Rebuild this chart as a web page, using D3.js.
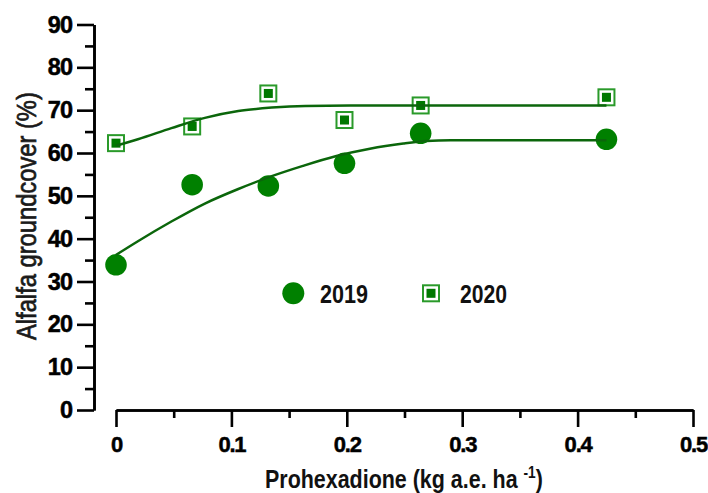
<!DOCTYPE html>
<html>
<head>
<meta charset="utf-8">
<script src="https://cdn.jsdelivr.net/npm/d3@7"></script>
<style>
  html, body { margin: 0; padding: 0; background: #fff; }
  svg { display: block; }
  text { font-family: "Liberation Sans", Arial, sans-serif; }
</style>
</head>
<body>
<svg id="chart" width="708" height="493"></svg>
<script>
// ---- data ----
const doses = [0, 0.066, 0.132, 0.198, 0.264, 0.425];
const cover2019 = [33.9, 52.6, 52.3, 57.6, 64.6, 63.2];
const cover2020 = [62.3, 66.2, 73.9, 67.7, 71.1, 73.0];
// fitted curves
const curve2019Dose = [0, 0.019, 0.048, 0.077, 0.106, 0.135, 0.162, 0.191, 0.220, 0.249, 0.269, 0.290, 0.425];
const curve2019 = [36.2, 39.4, 44.0, 48.2, 51.6, 54.6, 57.0, 59.3, 61.0, 62.2, 62.8, 63.0, 63.0];
const curve2020Dose = [0, 0.019, 0.048, 0.077, 0.106, 0.135, 0.164, 0.203, 0.425];
const curve2020 = [61.7, 63.2, 65.8, 68.2, 69.8, 70.6, 71.0, 71.1, 71.1];
const yMajorTicks = [0, 10, 20, 30, 40, 50, 60, 70, 80, 90];
const yMinorTicks = [5, 15, 25, 35, 45, 55, 65, 75, 85];
const xMajorTicks = [0, 0.1, 0.2, 0.3, 0.4, 0.5];
const xMinorTicks = [0.05, 0.15, 0.25, 0.35, 0.45];
const seriesNames = ["2019", "2020"];

// ---- layout ----
const svg = d3.select("#chart");
const x = d3.scaleLinear().domain([0, 0.5]).range([116, 693]);
const y = d3.scaleLinear().domain([0, 90]).range([410, 24.5]);

const circleFill = "#008000";
const squareStroke = "#2a9a2a";
const squareFill = "#007800";
const lineColor = "#0b660b";

function fitText(parent, str, tx, ty, width, opts) {
  const g = parent.append("g");
  const t = g.append("text")
    .attr("x", 0).attr("y", 0)
    .style("font-size", opts.size + "px")
    .style("font-weight", opts.weight || "normal")
    .attr("fill", opts.fill || "#111");
  if (opts.stroke) t.attr("stroke", opts.fill || "#111").attr("stroke-width", opts.stroke);
  if (typeof str === "function") str(t); else t.text(str);
  const w = t.node().getBBox().width;
  const s = width / w;
  g.attr("transform", `translate(${tx},${ty})` + (opts.rotate ? ` rotate(${opts.rotate})` : "") + ` scale(${s},1)`);
  return g;
}

// ---- axes ----
const yAxisG = svg.append("g").attr("transform", `translate(94,0)`);
yAxisG.call(d3.axisLeft(y).tickValues(yMajorTicks).tickSize(17).tickSizeOuter(0).tickPadding(5).tickFormat(d3.format("d")));
const yMinorG = svg.append("g").attr("transform", `translate(94,0)`);
yMinorG.call(d3.axisLeft(y).tickValues(yMinorTicks).tickSize(9).tickSizeOuter(0).tickFormat(""));

const xAxisG = svg.append("g").attr("transform", `translate(0,410)`);
xAxisG.call(d3.axisBottom(x).tickValues(xMajorTicks).tickSize(17).tickSizeOuter(0).tickPadding(9)
  .tickFormat(d => d === 0 ? "0" : d3.format(".1f")(d)));
const xMinorG = svg.append("g").attr("transform", `translate(0,410)`);
xMinorG.call(d3.axisBottom(x).tickValues(xMinorTicks).tickSize(8).tickSizeOuter(0).tickFormat(""));

svg.selectAll(".domain, .tick line").attr("stroke", "#000").attr("stroke-width", 2.6);
yAxisG.selectAll(".tick text").style("font-size", "23.5px").style("font-weight", "bold")
  .style("letter-spacing", "-1px").attr("fill", "#000").attr("stroke", "#000").attr("stroke-width", 0.5)
  .style("font-family", '"Liberation Sans", Arial, sans-serif');
xAxisG.selectAll(".tick text").style("font-size", "22px").style("font-weight", "bold")
  .style("letter-spacing", "-1.2px").attr("fill", "#000").attr("stroke", "#000").attr("stroke-width", 0.5)
  .style("font-family", '"Liberation Sans", Arial, sans-serif');

// ---- axis titles ----
fitText(svg, "Alfalfa groundcover (%)", 36, 340, 248, { size: 28, rotate: -90, fill: "#1a1a1a", stroke: 0.7 });
fitText(svg, t => {
  t.append("tspan").text("Prohexadione (kg a.e. ha ");
  t.append("tspan").text("-1").style("font-size", "16px").attr("dy", -10);
  t.append("tspan").text(")").attr("dy", 10);
}, 265, 488, 278, { size: 25, weight: "bold", fill: "#111" });

// ---- markers ----
const pts2019 = doses.map((d, i) => ({ d, v: cover2019[i] }));
const pts2020 = doses.map((d, i) => ({ d, v: cover2020[i] }));

svg.append("g").selectAll("circle").data(pts2019).join("circle")
  .attr("cx", p => x(p.d)).attr("cy", p => y(p.v)).attr("r", 10.8)
  .attr("fill", circleFill);

const sq = svg.append("g").selectAll("g").data(pts2020).join("g")
  .attr("transform", p => `translate(${x(p.d)},${y(p.v)})`);
sq.append("rect").attr("x", -8).attr("y", -8).attr("width", 16).attr("height", 16)
  .attr("fill", "none").attr("stroke", squareStroke).attr("stroke-width", 2);
sq.append("rect").attr("x", -4.5).attr("y", -4.5).attr("width", 9).attr("height", 9)
  .attr("fill", squareFill);

// ---- fitted curves ----
const line = d3.line().x(p => x(p.d)).y(p => y(p.v)).curve(d3.curveMonotoneX);
svg.append("path").datum(curve2019Dose.map((d, i) => ({ d, v: curve2019[i] })))
  .attr("d", line).attr("fill", "none").attr("stroke", lineColor).attr("stroke-width", 2.5);
svg.append("path").datum(curve2020Dose.map((d, i) => ({ d, v: curve2020[i] })))
  .attr("d", line).attr("fill", "none").attr("stroke", lineColor).attr("stroke-width", 2.5);

// ---- legend ----
const leg = svg.append("g");
leg.append("circle").attr("cx", 293.3).attr("cy", 293.3).attr("r", 11).attr("fill", circleFill);
fitText(leg, seriesNames[0], 320, 303, 48, { size: 25, weight: "bold", fill: "#111" });
const lsq = leg.append("g").attr("transform", "translate(431,293.3)");
lsq.append("rect").attr("x", -8).attr("y", -8).attr("width", 16).attr("height", 16)
  .attr("fill", "none").attr("stroke", squareStroke).attr("stroke-width", 2);
lsq.append("rect").attr("x", -4.5).attr("y", -4.5).attr("width", 9).attr("height", 9).attr("fill", squareFill);
fitText(leg, seriesNames[1], 460, 303, 47, { size: 25, weight: "bold", fill: "#111" });
</script>
</body>
</html>
